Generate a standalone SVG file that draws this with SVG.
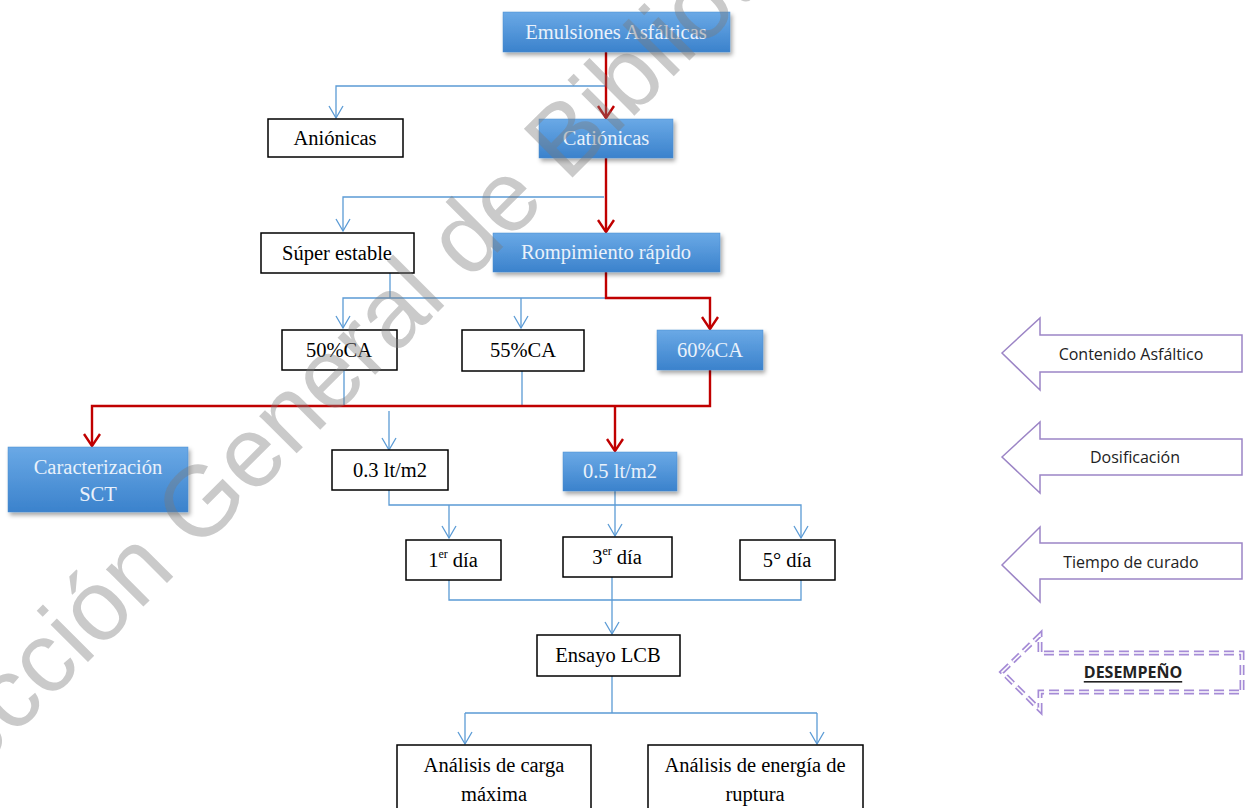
<svg xmlns="http://www.w3.org/2000/svg" width="1250" height="808" viewBox="0 0 1250 808">
<defs>
<linearGradient id="bg" x1="0" y1="0" x2="0" y2="1">
<stop offset="0" stop-color="#6aa9e6"/>
<stop offset="1" stop-color="#3b82cc"/>
</linearGradient>
<filter id="sh" x="-10%" y="-20%" width="130%" height="160%">
<feDropShadow dx="2" dy="3" stdDeviation="2" flood-color="#000" flood-opacity="0.35"/>
</filter>
<marker id="ab" viewBox="-14 -9 16 18" refX="0" refY="0" markerWidth="16" markerHeight="18" markerUnits="userSpaceOnUse" orient="auto">
<path d="M-12,-7 L0,0 L-12,7" fill="none" stroke="#5b9bd5" stroke-width="1.3"/>
</marker>
<marker id="ar" viewBox="-14 -10 16 20" refX="0" refY="0" markerWidth="16" markerHeight="20" markerUnits="userSpaceOnUse" orient="auto">
<path d="M-12,-8 L0,0 L-12,8" fill="none" stroke="#c00000" stroke-width="2.4"/>
</marker>
</defs>
<style>
.wb{fill:#fff;stroke:#000;stroke-width:1.5}
.bb{fill:url(#bg);stroke:#4a8ad0;stroke-width:0.5;filter:url(#sh)}
.t{font-family:"Liberation Serif","Times New Roman",serif;font-size:20.5px;fill:#000;text-anchor:middle;dominant-baseline:central}
.tb{font-family:"Liberation Serif","Times New Roman",serif;font-size:20.5px;fill:#e9f1fb;text-anchor:middle;dominant-baseline:central}
.lb{fill:none;stroke:#5b9bd5;stroke-width:1.3}
.lr{fill:none;stroke:#c00000;stroke-width:2.4}
.pa{fill:#fff;stroke:#9c85c6;stroke-width:1.5}
.pt{font-family:"Open Sans","Noto Sans",sans-serif;font-size:16px;fill:#222;text-anchor:middle;dominant-baseline:central}
.sup{font-size:12px}
</style>
<rect width="1250" height="808" fill="#fff"/>

<g id="connectors">
<path class="lb" d="M605,86 H336 V118" marker-end="url(#ab)"/>
<path class="lb" d="M604,197 H343 V231" marker-end="url(#ab)"/>
<path class="lb" d="M390,273 V298"/>
<path class="lb" d="M606,298 H343 V328" marker-end="url(#ab)"/>
<path class="lb" d="M521,298 V328" marker-end="url(#ab)"/>
<path class="lb" d="M344,370 V406 M522,371 V406"/>
<path class="lb" d="M389,411 V450" marker-end="url(#ab)"/>
<path class="lb" d="M389,490 V505 H801 V538" marker-end="url(#ab)"/>
<path class="lb" d="M449,505 V538" marker-end="url(#ab)"/>
<path class="lb" d="M615,491 V536" marker-end="url(#ab)"/>
<path class="lb" d="M449,580 V600 H801 V580 M612,577 V600"/>
<path class="lb" d="M612,600 V634" marker-end="url(#ab)"/>
<path class="lb" d="M612,676 V713 M465,713 H817"/>
<path class="lb" d="M465,713 V744" marker-end="url(#ab)"/>
<path class="lb" d="M817,713 V744" marker-end="url(#ab)"/>
<path class="lr" d="M606,52 V118" marker-end="url(#ar)"/>
<path class="lr" d="M606,158 V232" marker-end="url(#ar)"/>
<path class="lr" d="M606,272 V298 H710 V329" marker-end="url(#ar)"/>
<path class="lr" d="M710,370 V406 H92 V446" marker-end="url(#ar)"/>
<path class="lr" d="M615,406 V451" marker-end="url(#ar)"/>
</g>

<g id="n-emulsiones"><rect class="bb" x="503" y="12" width="227" height="40"/><text class="tb" x="616" y="32">Emulsiones Asfálticas</text></g>
<g id="n-anionicas"><rect class="wb" x="268" y="119" width="135" height="38"/><text class="t" x="335" y="138">Aniónicas</text></g>
<g id="n-cationicas"><rect class="bb" x="539" y="119" width="134" height="39"/><text class="tb" x="606" y="138">Catiónicas</text></g>
<g id="n-super"><rect class="wb" x="261" y="233" width="153" height="40"/><text class="t" x="337" y="253">Súper estable</text></g>
<g id="n-rompimiento"><rect class="bb" x="493" y="233" width="227" height="39"/><text class="tb" x="606" y="252">Rompimiento rápido</text></g>
<g id="n-50"><rect class="wb" x="282" y="330" width="115" height="40"/><text class="t" x="339" y="350">50%CA</text></g>
<g id="n-55"><rect class="wb" x="462" y="330" width="122" height="41"/><text class="t" x="523" y="350">55%CA</text></g>
<g id="n-60"><rect class="bb" x="657" y="330" width="106" height="40"/><text class="tb" x="710" y="350">60%CA</text></g>
<g id="n-sct"><rect class="bb" x="8" y="447" width="180" height="65"/><text class="tb" x="98" y="467">Caracterización</text><text class="tb" x="98" y="494">SCT</text></g>
<g id="n-03"><rect class="wb" x="332" y="450" width="116" height="40"/><text class="t" x="390" y="470">0.3 lt/m2</text></g>
<g id="n-05"><rect class="bb" x="563" y="452" width="114" height="39"/><text class="tb" x="620" y="471">0.5 lt/m2</text></g>
<g id="n-d1"><rect class="wb" x="406" y="540" width="95" height="40"/><text class="t" x="453" y="560">1<tspan class="sup" dy="-6">er</tspan><tspan dy="6"> día</tspan></text></g>
<g id="n-d3"><rect class="wb" x="563" y="537" width="109" height="40"/><text class="t" x="617" y="557">3<tspan class="sup" dy="-6">er</tspan><tspan dy="6"> día</tspan></text></g>
<g id="n-d5"><rect class="wb" x="740" y="540" width="95" height="40"/><text class="t" x="787" y="560">5° día</text></g>
<g id="n-lcb"><rect class="wb" x="537" y="635" width="143" height="41"/><text class="t" x="608" y="655">Ensayo LCB</text></g>
<g id="n-carga"><rect class="wb" x="397" y="745" width="194" height="72"/><text class="t" x="494" y="765">Análisis de carga</text><text class="t" x="494" y="794">máxima</text></g>
<g id="n-energia"><rect class="wb" x="648" y="745" width="215" height="72"/><text class="t" x="755" y="765">Análisis de energía de</text><text class="t" x="755" y="794">ruptura</text></g>

<g id="l-contenido"><polygon class="pa" points="1002,353 1040,318 1040,335 1242,335 1242,372 1040,372 1040,390"/><text class="pt" x="1131" y="354">Contenido Asfáltico</text></g>
<g id="l-dosificacion"><polygon class="pa" points="1002,457 1040,422 1040,439 1242,439 1242,475 1040,475 1040,493"/><text class="pt" x="1135" y="457">Dosificación</text></g>
<g id="l-tiempo"><polygon class="pa" points="1002,565 1040,527 1040,543 1242,543 1242,579 1040,579 1040,602"/><text class="pt" x="1131" y="562">Tiempo de curado</text></g>
<g id="l-desempeno">
<polygon points="1002,672 1040,635 1040,653 1242,653 1242,692 1040,692 1040,710" fill="#fff" stroke="#a58bd6" stroke-width="5" stroke-dasharray="10 5"/>
<polygon points="1002,672 1040,635 1040,653 1242,653 1242,692 1040,692 1040,710" fill="none" stroke="#fff" stroke-width="1.6" stroke-dasharray="10 5"/>
<text class="pt" x="1133" y="672" font-weight="bold" text-decoration="underline" font-size="15">DESEMPEÑO</text>
</g>

<text x="-117" y="867" transform="rotate(-45 -117 867)" font-family="'Liberation Sans',Arial,sans-serif" font-size="100" fill="#7a7a7a" fill-opacity="0.4">Dirección General de Bibliotecas</text>
</svg>
